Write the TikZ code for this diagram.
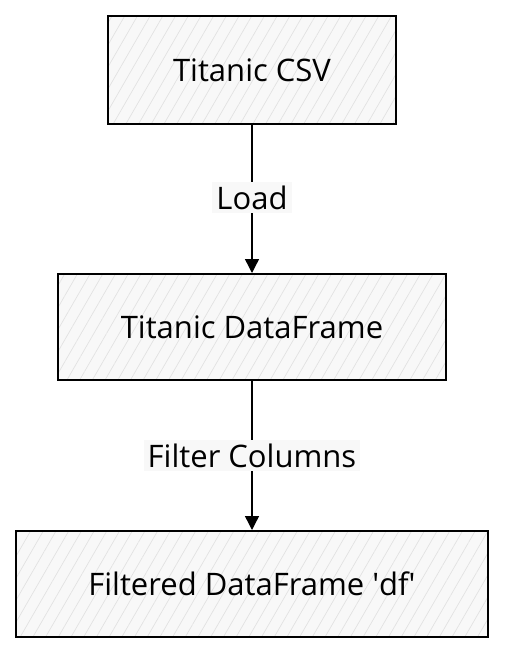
\documentclass[tikz,border=0pt]{standalone}
\usepackage{fontspec}
\setmainfont{Open Sans}
\usepackage{tikz}
\usetikzlibrary{arrows.meta, positioning, patterns.meta}
\definecolor{boxfill}{HTML}{F8F8F8}
\definecolor{hatch}{HTML}{E2E2E2}
\tikzstyle{block} = [draw, line width=2pt,
	preaction={fill=boxfill},
	preaction={pattern={Lines[angle=60, distance=11pt, line width=0.7pt]}, pattern color=hatch},
	minimum height = 106pt,
	font=\fontsize{31}{36}\selectfont]
\tikzstyle{arrow} = [-{Triangle[length=14pt, width=14pt]}, line width=1.4pt]
\tikzstyle{edgelabel} = [fill=boxfill, inner sep=4pt,
	font=\fontsize{31}{36}\selectfont]

\begin{document}
\begin{tikzpicture}[x=1pt, y=1pt]
			\useasboundingbox (0,0) rectangle (524,-672);
			
			\node (csv) [block, minimum width=288pt, minimum height=108pt] at (252,-70) {Titanic CSV};
			
			\node (frame) [block, minimum width=388pt, below=148pt of csv] {Titanic DataFrame};
			\draw [arrow] (csv) -- (frame) node [edgelabel, pos=0.49] {Load};
			
			\node (filtered) [block, minimum width=472pt, below=149pt of frame] {Filtered DataFrame \textquotesingle df\textquotesingle};
			\draw [arrow] (frame) -- (filtered) node [edgelabel, pos=0.5] {Filter Columns};
		\end{tikzpicture}
\end{document}
